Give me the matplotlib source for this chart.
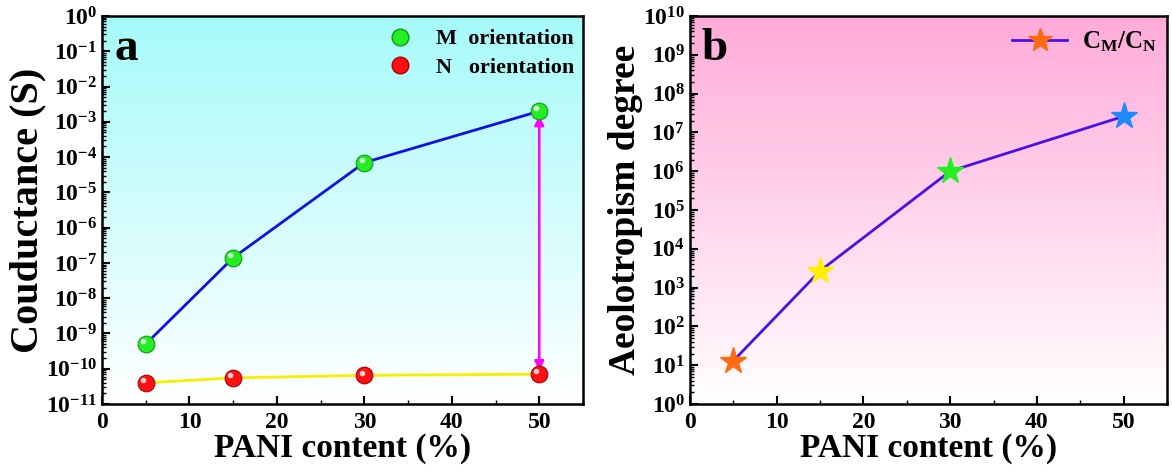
import numpy as np
import matplotlib.pyplot as plt
from matplotlib.lines import Line2D
from matplotlib.transforms import ScaledTranslation
from matplotlib.ticker import LogLocator, MultipleLocator, FixedLocator

plt.rcParams['font.family'] = 'Liberation Serif'
plt.rcParams['font.weight'] = 'bold'
plt.rcParams['mathtext.fontset'] = 'custom'
plt.rcParams['mathtext.rm'] = 'Liberation Serif:bold'
plt.rcParams['mathtext.bf'] = 'Liberation Serif:bold'
plt.rcParams['mathtext.it'] = 'Liberation Serif:bold'

pani = [5, 15, 30, 50]
g_m = [5e-10, 1.4e-7, 7e-5, 2e-3]
g_n = [4e-11, 5.5e-11, 6.5e-11, 7e-11]
aniso = [13, 2700, 1.0e6, 2.6e7]
star_colors = ['#ff6a13', '#ffee00', '#22ee22', '#1e88ff']

fig = plt.figure(figsize=(11.72, 4.73), dpi=100)
ax1 = fig.add_axes([102/1172, 69/473, 481/1172, 388/473])
ax2 = fig.add_axes([690/1172, 69/473, 477/1172, 388/473])


def gradient(ax, top):
    grad = np.linspace(0, 1, 256).reshape(-1, 1)
    top = np.array(top)
    img = np.ones((256, 1, 3)) * (1 - grad[..., None]) + top * grad[..., None]
    img = img[::-1]
    ax.imshow(img, extent=[0, 1, 0, 1], transform=ax.transAxes,
              aspect='auto', zorder=0)


def sphere(ax, x, y, face, edge):
    ax.plot(x, y, 'o', ms=12, mfc=face, mec=edge, mew=0.8, zorder=4)
    off = ScaledTranslation(-2/72, 2/72, fig.dpi_scale_trans)
    ax.plot(x, y, 'o', ms=4, mfc='white', mec='none', alpha=0.8, zorder=5,
            transform=ax.transData + off)


def style(ax, lo, hi):
    ax.set_yscale('log')
    ax.set_xlim(0, 55)
    ax.set_ylim(10.0**lo, 10.0**hi)
    ax.xaxis.set_major_locator(MultipleLocator(10))
    ax.xaxis.set_minor_locator(MultipleLocator(5))
    ax.yaxis.set_major_locator(FixedLocator([10.0**k for k in range(lo, hi + 1)]))
    ax.yaxis.set_minor_locator(LogLocator(base=10, subs=np.arange(2, 10), numticks=100))
    ax.yaxis.set_minor_formatter(plt.NullFormatter())
    ax.set_yticklabels([r'$\mathbf{10^{%d}}$' % k for k in range(lo, hi + 1)])
    ax.tick_params(which='both', direction='in', top=False, right=False,
                   labelsize=17, width=1.5)
    ax.tick_params(axis='x', pad=6)
    ax.tick_params(which='major', length=6)
    ax.tick_params(which='minor', length=3, width=1)
    for s in ax.spines.values():
        s.set_linewidth(1.8)
    ax.set_xlabel('PANI content (%)', fontsize=24, fontweight='bold', labelpad=0)


# panel a
gradient(ax1, [0.65, 0.98, 0.98])
ax1.plot(pani, g_m, color='#1010e0', lw=2, zorder=3)
ax1.plot(pani, g_n, color='#f5f000', lw=2, zorder=3)
sphere(ax1, pani, g_m, '#22ee22', '#119911')
sphere(ax1, pani, g_n, '#ff1010', '#aa0000')
ax1.annotate('', xy=(50, g_n[-1] * 1.25), xytext=(50, g_m[-1] * 0.75),
             arrowprops=dict(arrowstyle='<|-|>', color='#ff00ff', lw=1.8,
                             mutation_scale=14, shrinkA=0, shrinkB=0), zorder=3)
style(ax1, -11, 0)
ax1.set_ylabel('Couductance (S)', fontsize=29, fontweight='bold', labelpad=0)
ax1.text(0.025, 0.915, 'a', transform=ax1.transAxes, fontsize=34, fontweight='bold', va='center')
h_m = Line2D([], [], ls='none', marker='o', ms=12, mfc='#22ee22', mec='#119911')
h_n = Line2D([], [], ls='none', marker='o', ms=12, mfc='#ff1010', mec='#aa0000')
ax1.legend([h_m, h_n], ['M  orientation', 'N   orientation'], loc='upper right',
           bbox_to_anchor=(1, 0.99), frameon=False, fontsize=16,
           handletextpad=0.6, borderaxespad=0.0, labelspacing=0.35)

# panel b
gradient(ax2, [1.0, 0.67, 0.85])
ax2.plot(pani, aniso, color='#4a10e8', lw=2, zorder=3)
for x, y, c in zip(pani, aniso, star_colors):
    ax2.plot(x, y, '*', ms=20, color=c, mec=c, zorder=4)
style(ax2, 0, 10)
ax2.set_ylabel('Aeolotropism degree', fontsize=27, fontweight='bold', labelpad=0)
ax2.text(0.025, 0.915, 'b', transform=ax2.transAxes, fontsize=34, fontweight='bold', va='center')
h_b = Line2D([], [], color='#4a10e8', lw=2, marker='*', ms=18, mfc='#ff6a13', mec='#ff6a13')
ax2.legend([h_b], [r'$\mathbf{C_M/C_N}$'], loc='upper right', bbox_to_anchor=(1, 0.99),
           frameon=False, fontsize=18, handlelength=2.2, handletextpad=0.6,
           borderaxespad=0.0)

fig.savefig('out.png', dpi=100)
